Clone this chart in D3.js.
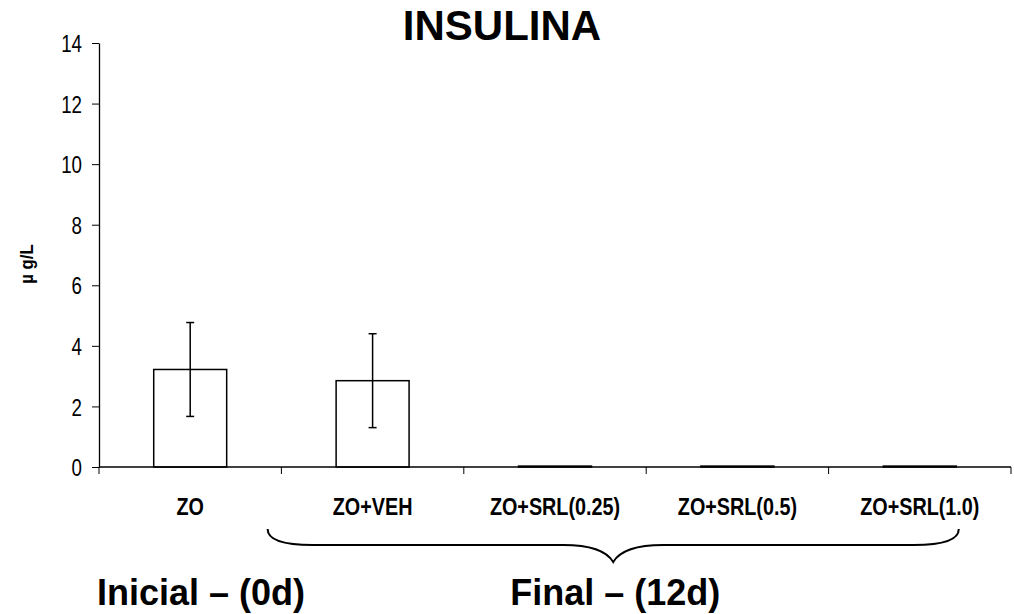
<!DOCTYPE html>
<html>
<head>
<meta charset="utf-8">
<script src="https://cdn.jsdelivr.net/npm/d3@7"></script>
<style>
  html, body { margin: 0; padding: 0; background: #fff; }
  svg { display: block; font-family: "Liberation Sans", Arial, Helvetica, sans-serif; }
</style>
</head>
<body>
<svg id="chart" width="1014" height="614"></svg>
<script>
// Insulin levels (µg/L) per treatment group
const groups = ["ZO", "ZO+VEH", "ZO+SRL(0.25)", "ZO+SRL(0.5)", "ZO+SRL(1.0)"];
const means = [3.22, 2.85, 0.03, 0.03, 0.03];
const errors = [1.55, 1.55, 0, 0, 0];
const yTicks = [0, 2, 4, 6, 8, 10, 12, 14];

const chartTitle = "INSULINA";
const yTitle = "µ g/L";
const phaseStart = "Inicial – (0d)";
const phaseEnd = "Final – (12d)";

const svg = d3.select("#chart");

const x = d3.scaleBand().domain(groups).range([99, 1011]).padding(0);
const y = d3.scaleLinear().domain([0, 14]).range([467, 43]);
const barW = x.bandwidth() * 0.4;

// Title
svg.append("text")
  .attr("x", 502).attr("y", 40)
  .attr("text-anchor", "middle")
  .attr("font-size", 42).attr("font-weight", "bold")
  .text(chartTitle);

// Y axis
const yAxis = svg.append("g")
  .attr("transform", `translate(${x.range()[0]},0)`)
  .call(d3.axisLeft(y).tickValues(yTicks).tickSize(7).tickSizeOuter(0).tickFormat(d3.format("d")));
yAxis.select(".domain").attr("stroke", "#000").attr("stroke-width", 1.3);
yAxis.selectAll(".tick line").attr("stroke", "#000").attr("stroke-width", 1);
yAxis.selectAll(".tick text")
  .attr("x", 0)
  .attr("dy", "0.36em")
  .attr("transform", "translate(-17,0) scale(0.78,1)")
  .attr("font-size", 24)
  .attr("font-family", "'Liberation Sans', Arial, sans-serif")
  .attr("fill", "#000");

// Y axis title
svg.append("text")
  .attr("transform", "translate(33,264) rotate(-90) scale(0.88,1)")
  .attr("text-anchor", "middle")
  .attr("font-size", 19).attr("font-weight", "bold")
  .text(yTitle);

// Bars
svg.append("g").selectAll("rect")
  .data(groups)
  .join("rect")
  .attr("x", (d) => x(d) + (x.bandwidth() - barW) / 2)
  .attr("y", (d, i) => y(means[i]))
  .attr("width", barW)
  .attr("height", (d, i) => y(0) - y(means[i]))
  .attr("fill", "#fff")
  .attr("stroke", "#000")
  .attr("stroke-width", 1.5);

// X axis baseline and category boundary ticks
const xAxisG = svg.append("g");
xAxisG.append("line")
  .attr("x1", x.range()[0]).attr("x2", x.range()[1])
  .attr("y1", y(0)).attr("y2", y(0))
  .attr("stroke", "#000").attr("stroke-width", 1.3);
const bounds = groups.map((g) => x(g)).concat([x.range()[1]]);
xAxisG.selectAll("line.tk")
  .data(bounds)
  .join("line")
  .attr("class", "tk")
  .attr("x1", (d) => d).attr("x2", (d) => d)
  .attr("y1", y(0)).attr("y2", y(0) + 7)
  .attr("stroke", "#000").attr("stroke-width", 1);

// Error bars
const cap = 4;
const eb = svg.append("g").attr("stroke", "#000").attr("stroke-width", 1.5);
groups.forEach((g, i) => {
  if (!errors[i]) return;
  const cx = x(g) + x.bandwidth() / 2;
  const top = y(means[i] + errors[i]);
  const bot = y(means[i] - errors[i]);
  eb.append("line").attr("x1", cx).attr("x2", cx).attr("y1", top).attr("y2", bot);
  eb.append("line").attr("x1", cx - cap).attr("x2", cx + cap).attr("y1", top).attr("y2", top);
  eb.append("line").attr("x1", cx - cap).attr("x2", cx + cap).attr("y1", bot).attr("y2", bot);
});

// Category labels
svg.append("g").selectAll("text")
  .data(groups)
  .join("text")
  .attr("transform", (d) => `translate(${x(d) + x.bandwidth() / 2},515) scale(0.86,1)`)
  .attr("text-anchor", "middle")
  .attr("font-size", 23).attr("font-weight", "bold")
  .text((d) => d);

// Brace grouping the final-phase groups
const bL = x(groups[1]) + x.bandwidth() / 2 - 105;
const bR = x(groups[4]) + x.bandwidth() / 2 + 39;
const bM = (bL + bR) / 2;
const bTop = 529, bMid = 545, bTip = 562;
svg.append("path")
  .attr("d", `M${bL},${bTop} Q${bL},${bMid} ${bL + 45},${bMid} L${bM - 50},${bMid} Q${bM - 10},${bMid} ${bM},${bTip}` +
             ` Q${bM + 10},${bMid} ${bM + 50},${bMid} L${bR - 45},${bMid} Q${bR},${bMid} ${bR},${bTop}`)
  .attr("fill", "none")
  .attr("stroke", "#000")
  .attr("stroke-width", 2);

// Phase labels
svg.append("text")
  .attr("x", 97).attr("y", 605)
  .attr("font-size", 36).attr("font-weight", "bold")
  .text(phaseStart);
svg.append("text")
  .attr("x", bM + 2).attr("y", 605)
  .attr("text-anchor", "middle")
  .attr("font-size", 36).attr("font-weight", "bold")
  .text(phaseEnd);
</script>
</body>
</html>
